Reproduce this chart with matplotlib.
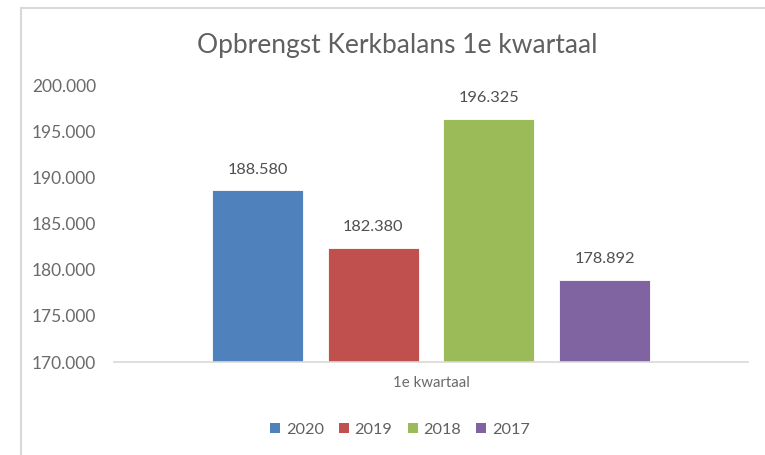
import matplotlib.pyplot as plt
from matplotlib.lines import Line2D
from matplotlib.patches import Patch

# Data
years = ['2020', '2019', '2018', '2017']
values = [188580, 182380, 196325, 178892]
colors = ['#4F81BD', '#C0504D', '#9BBB59', '#8064A2']
category = '1e kwartaal'
yticks = [170000, 175000, 180000, 185000, 190000, 195000, 200000]


def fmt(v):
    return f'{v:,}'.replace(',', '.')


plt.rcParams['font.family'] = ['Lato', 'DejaVu Sans']

fig = plt.figure(figsize=(7.65, 4.55), dpi=100)
ax = fig.add_axes([114 / 765, 1 - 362 / 455, 634 / 765, 277 / 455])

width = 0.1435
step = 0.1825
offsets = [(i - 1.5) * step for i in range(len(years))]
for off, v, c in zip(offsets, values, colors):
    ax.bar(off, v - yticks[0], bottom=yticks[0], width=width, color=c,
           edgecolor='white', linewidth=0.6, zorder=2)
    ax.annotate(fmt(v), (off, v), xytext=(0, 10), textcoords='offset points',
                ha='center', va='bottom', fontsize=11.8, color='#505050')

ax.set_xlim(-0.5, 0.5)
ax.set_ylim(yticks[0], yticks[-1])
ax.set_yticks(yticks)
ax.set_yticklabels([fmt(t) for t in yticks], fontsize=12.5, color='#6a6a6a')
ax.set_xticks([0])
ax.set_xticklabels([category], fontsize=10.8, color='#6a6a6a')
ax.tick_params(axis='both', length=0)
ax.tick_params(axis='y', pad=13)
ax.tick_params(axis='x', pad=10)
for s in ['top', 'right', 'left']:
    ax.spines[s].set_visible(False)
ax.spines['bottom'].set_color('#d9d9d9')
ax.spines['bottom'].set_linewidth(1.2)

fig.text(397 / 765, 1 - 53 / 455, 'Opbrengst Kerkbalans 1e kwartaal',
         ha='center', va='baseline', fontsize=19, color='#606060')

handles = [Patch(facecolor=c, edgecolor='none') for c in colors]
fig.legend(handles, years, loc='center', bbox_to_anchor=(400 / 765, 1 - 430 / 455),
           ncol=4, frameon=False, fontsize=11.7, labelcolor='#606060',
           handlelength=0.6, handleheight=0.6, handletextpad=0.35, columnspacing=0.95)

# outer chart frame (partly cropped in the reference)
fig.add_artist(Line2D([21 / 765, 21 / 765], [0, 1 - 8 / 455], transform=fig.transFigure,
                      color='#d9d9d9', linewidth=1.5))
fig.add_artist(Line2D([21 / 765, 1], [1 - 8 / 455, 1 - 8 / 455], transform=fig.transFigure,
                      color='#d9d9d9', linewidth=1.5))

fig.savefig('out.png', dpi=100)
